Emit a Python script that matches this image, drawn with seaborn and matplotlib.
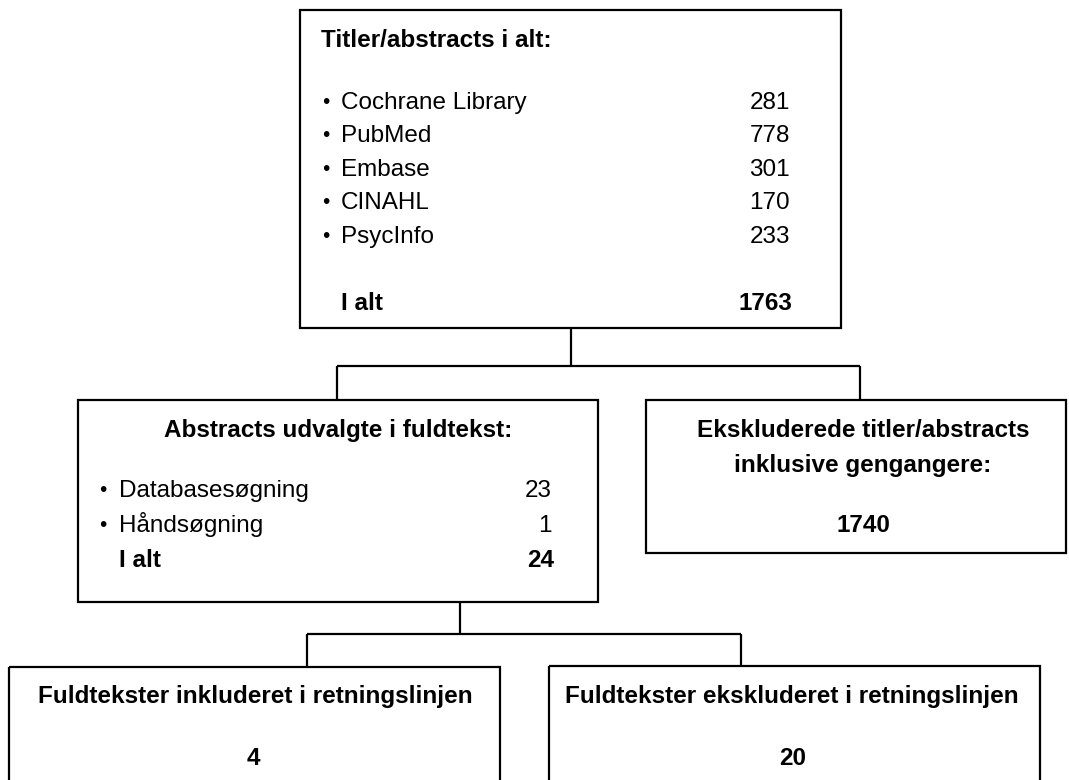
# flowchart of literature search (titles -> abstracts -> full texts)
import matplotlib.pyplot as plt
import seaborn as sns
from matplotlib.patches import Rectangle

# -- data
sources = ["Cochrane Library", "PubMed", "Embase", "CINAHL", "PsycInfo"]
source_counts = [281, 778, 301, 170, 233]
total_titles = 1763

search_types = ["Databasesøgning", "Håndsøgning"]
search_counts = [23, 1]
total_selected = 24

excluded_titles = 1740
included_full = 4
excluded_full = 20

sns.set_theme(style="white")
plt.rcParams['font.family'] = ['Liberation Sans', 'DejaVu Sans']

W, H = 1069, 780
fig = plt.figure(figsize=(W / 100, H / 100), dpi=100)
ax = fig.add_axes([0, 0, 1, 1])
ax.set_xlim(0, W)
ax.set_ylim(H, 0)
ax.axis('off')

FS = 17.5
LW = 1.6


def box(x0, y0, x1, y1):
    ax.add_patch(Rectangle((x0, y0), x1 - x0, y1 - y0, fill=False,
                           edgecolor='black', linewidth=LW))


def line(xs, ys):
    ax.plot(xs, ys, color='black', linewidth=LW, solid_capstyle='butt')


# y is the text baseline
def txt(x, y, s, ha='left', bold=False, size=FS):
    ax.text(x, y, s, ha=ha, va='baseline', fontsize=size,
            fontweight='bold' if bold else 'normal', color='black')


def bullet(x, y):
    ax.text(x, y - 6.5, "•", ha='center', va='center', fontsize=15, color='black')


# top box
box(300, 10, 841, 328)
txt(321, 47, "Titler/abstracts i alt:", bold=True)
for i, (name, n) in enumerate(zip(sources, source_counts)):
    y = 109 + i * 33.4
    bullet(326, y)
    txt(341, y, name)
    txt(790, y, str(n), ha='right')
txt(341, 310, "I alt", bold=True)
txt(792, 310, str(total_titles), ha='right', bold=True)

# connectors top -> middle
line([571, 571], [328, 366])
line([337, 860], [366, 366])
line([337, 337], [366, 400])
line([860, 860], [366, 400])

# middle left
box(78, 400, 598, 602)
txt(338, 437, "Abstracts udvalgte i fuldtekst:", ha='center', bold=True)
for i, (name, n) in enumerate(zip(search_types, search_counts)):
    y = 497 + i * 35
    bullet(103, y)
    txt(119, y, name)
    txt(552, y, str(n), ha='right')
txt(119, 567, "I alt", bold=True)
txt(554, 567, str(total_selected), ha='right', bold=True)

# middle right
box(646, 400, 1066, 553)
txt(863, 437, "Ekskluderede titler/abstracts", ha='center', bold=True)
txt(863, 472, "inklusive gengangere:", ha='center', bold=True)
txt(863, 532, str(excluded_titles), ha='center', bold=True)

# connectors middle -> bottom
line([460, 460], [602, 634])
line([307, 741], [634, 634])
line([307, 307], [634, 667])
line([741, 741], [634, 667])

# bottom boxes
box(9, 667, 500, 800)
txt(255, 703, "Fuldtekster inkluderet i retningslinjen", ha='center', bold=True)
txt(253, 765, str(included_full), ha='center', bold=True)

box(549, 666, 1040, 800)
txt(792, 703, "Fuldtekster ekskluderet i retningslinjen", ha='center', bold=True)
txt(793, 765, str(excluded_full), ha='center', bold=True)

fig.savefig("out.png", dpi=100)
plt.close(fig)
